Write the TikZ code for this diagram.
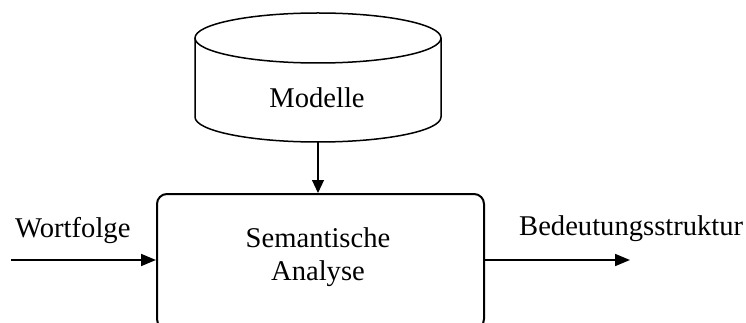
\documentclass[tikz,border=0pt]{standalone}
\usepackage{fontspec}
\setmainfont{Liberation Serif}
\usetikzlibrary{arrows.meta}
\begin{document}
\begin{tikzpicture}[x=1pt,y=-1pt,
  lbl/.style={font=\fontsize{28.6}{33}\selectfont, inner sep=0pt, align=center},
  arr/.style={-{Triangle[length=15pt,width=12pt]}, line width=1.7pt},
  thinarr/.style={-{Triangle[length=13pt,width=12pt]}, line width=1.1pt},
  procbox/.style={draw, line width=2pt, rounded corners=10pt, minimum width=327pt, minimum height=135pt, inner sep=0pt},
  cyl/.style={line width=1.5pt}]
\useasboundingbox (0,0) rectangle (746,323);
\clip (0,0) rectangle (746,323);
% cylinder
\node (db) [minimum width=246pt, minimum height=129pt, inner sep=0pt, outer sep=0pt] at (318,77.5) {};
\draw[cyl] (318,38) ellipse [x radius=123, y radius=25];
\draw[cyl] (195,38) -- (195,117) arc[start angle=180, end angle=0, x radius=123, y radius=25] -- (441,38);
\node[lbl, anchor=base] (modelle) at (317,108) {Modelle};
% process box
\node[procbox] (box) at (320.5,261.5) {};
\node[lbl] (sa) at (318,257) {Semantische\\Analyse};
% inputs / outputs
\node[lbl, anchor=base west] (wf) at (15,237) {Wortfolge};
\node[lbl, anchor=base west] (bs) at (519,235) {Bedeutungsstruktur};
\coordinate (win) at (11,260);
\coordinate (wout) at (630,260);
\draw[arr] (win) -- (win -| box.west);
\draw[arr] (box.east |- wout) -- (wout);
\draw[thinarr] (db.south) -- (db.south |- box.north);
\end{tikzpicture}
\end{document}
